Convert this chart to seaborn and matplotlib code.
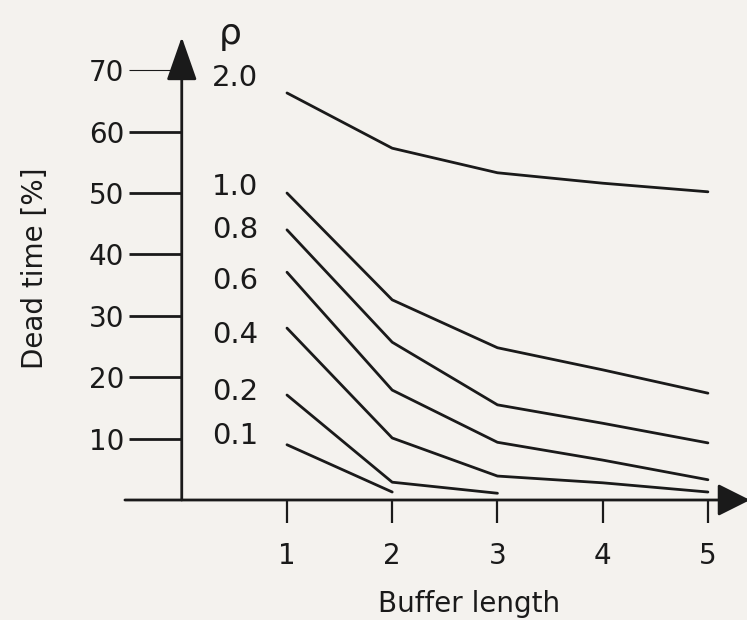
import matplotlib
matplotlib.use("Agg")
import matplotlib.pyplot as plt
import seaborn as sns
import pandas as pd

# ---- data ----
rho_labels = ["2.0", "1.0", "0.8", "0.6", "0.4", "0.2", "0.1"]
buffer_2_0 = [1, 2, 3, 4, 5]
dead_2_0 = [66.3, 57.3, 53.3, 51.6, 50.2]
buffer_1_0 = [1, 2, 3, 4, 5]
dead_1_0 = [50.0, 32.6, 24.8, 21.2, 17.4]
buffer_0_8 = [1, 2, 3, 4, 5]
dead_0_8 = [44.0, 25.7, 15.5, 12.5, 9.3]
buffer_0_6 = [1, 2, 3, 4, 5]
dead_0_6 = [37.1, 17.9, 9.4, 6.5, 3.3]
buffer_0_4 = [1, 2, 3, 4, 5]
dead_0_4 = [28.0, 10.1, 3.9, 2.8, 1.3]
buffer_0_2 = [1, 2, 3]
dead_0_2 = [17.1, 2.9, 1.1]
buffer_0_1 = [1, 2]
dead_0_1 = [9.0, 1.3]

label_y = [68.7, 51.0, 44.0, 35.7, 26.9, 17.6, 10.4]
y_ticks = [10, 20, 30, 40, 50, 60, 70]
x_ticks = [1, 2, 3, 4, 5]

series = {
    "2.0": (buffer_2_0, dead_2_0),
    "1.0": (buffer_1_0, dead_1_0),
    "0.8": (buffer_0_8, dead_0_8),
    "0.6": (buffer_0_6, dead_0_6),
    "0.4": (buffer_0_4, dead_0_4),
    "0.2": (buffer_0_2, dead_0_2),
    "0.1": (buffer_0_1, dead_0_1),
}
rows = []
for r, (xs, ys) in series.items():
    for x, y in zip(xs, ys):
        rows.append({"buffer": x, "dead": y, "rho": r})
df = pd.DataFrame(rows)

sns.set_theme(style="white")
plt.rcParams["font.family"] = ["DejaVu Sans"]
BG = "#f4f2ee"
INK = "#1a1a1a"

fig = plt.figure(figsize=(7.47, 6.20), dpi=100, facecolor=BG)
ax = fig.add_axes([181.75 / 747, 120 / 620, 563 / 747, 466.6 / 620])
ax.set_facecolor(BG)

sns.lineplot(data=df, x="buffer", y="dead", hue="rho", hue_order=rho_labels,
             palette={r: INK for r in rho_labels}, legend=False,
             linewidth=2.0, ax=ax, clip_on=False, estimator=None)

ax.set_xlim(0, 5.35)
ax.set_ylim(0, 76)
for s in ax.spines.values():
    s.set_visible(False)

# axes with arrowheads
ax.annotate("", xy=(5.40, 0), xytext=(-0.54, 0), xycoords="data",
            arrowprops=dict(arrowstyle="-|>,head_length=1.0,head_width=0.5",
                            mutation_scale=20, color=INK, lw=2.0,
                            shrinkA=0, shrinkB=0), annotation_clip=False)
ax.annotate("", xy=(0, 75.4), xytext=(0, 0), xycoords="data",
            arrowprops=dict(arrowstyle="-|>,head_length=1.0,head_width=0.35",
                            mutation_scale=27, color=INK, lw=2.0,
                            shrinkA=0, shrinkB=0), annotation_clip=False)

ax.set_yticks(y_ticks)
ax.set_yticklabels([str(v) for v in y_ticks])
ax.set_xticks(x_ticks)
ax.set_xticklabels([str(v) for v in x_ticks])
ax.tick_params(axis="y", direction="out", length=38, width=2.0, pad=3.5,
               labelsize=20, colors=INK, left=True)
ax.tick_params(axis="x", direction="out", length=16.5, width=1.6, pad=14,
               labelsize=20, colors=INK, bottom=True)
ax.yaxis.get_major_ticks()[-1].tick1line.set_markeredgewidth(0.8)

ax.set_xlabel("Buffer length", fontsize=20, color=INK)
ax.xaxis.set_label_coords(0.51, -0.192)
ax.set_ylabel("Dead time [%]", fontsize=20, color=INK)
ax.yaxis.label.set_va("center")
ax.yaxis.set_label_coords(-0.261, 0.497)

for lab, yy in zip(rho_labels, label_y):
    ax.text(0.506, yy, lab, fontsize=21, ha="center", va="center", color=INK)
ax.text(0.46, 75.9, "ρ", fontsize=26, ha="center", va="center", color=INK,
        clip_on=False)

fig.savefig("out.png", dpi=100, facecolor=BG)
